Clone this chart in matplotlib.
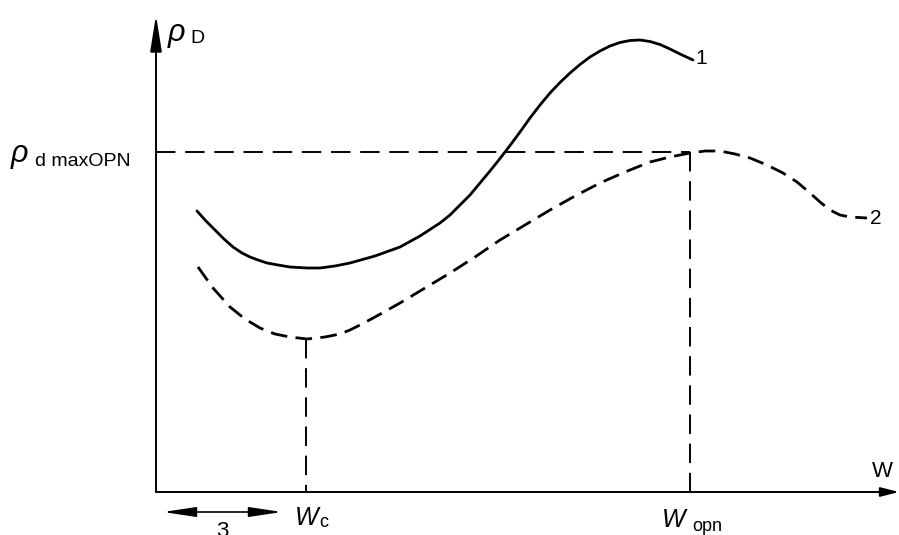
import numpy as np
import matplotlib.pyplot as plt
import matplotlib

matplotlib.rcParams['font.family'] = ['Liberation Sans', 'DejaVu Sans']
matplotlib.rcParams['lines.scale_dashes'] = False

# schematic units: W to the right of the origin, rho upward from the W axis
w1 = [41, 50, 59, 68, 77, 86, 94, 102, 111, 122, 134, 151, 164, 179, 194, 219, 244, 264,
      284, 294, 304, 314, 324, 334, 344, 354, 364, 374, 384, 394, 404, 414, 424, 434, 444,
      454, 464, 474, 484, 494, 504, 514, 524, 537]
rho1 = [281, 271, 262, 253, 245, 239, 235, 232, 229, 227, 225, 224, 224, 226, 229, 236,
        245, 256, 269, 277, 287, 297, 309, 321, 333.5, 346.5, 360, 374, 387, 399, 409.5,
        419, 427.5, 435, 441, 446, 449.5, 451.5, 452, 450.5, 447.5, 443, 438, 432]

w2 = [42, 57, 74, 89, 104, 119, 134, 151, 169, 184, 194, 206, 219, 244, 269, 294, 319, 344,
      369, 394, 419, 444, 469, 494, 514, 534, 549, 564, 579, 594, 611, 627, 641, 654, 664,
      674, 684, 694, 711]
rho2 = [225, 204, 185, 173, 164, 158, 155, 153, 155, 158, 162, 168, 175, 189, 204, 219, 235,
        252, 267, 282, 296, 309, 320, 330, 335, 339, 341, 341, 338, 334, 327, 319, 310, 299,
        290, 282, 277, 275, 274]

w_c = 150
w_opn = 534
rho_max = 340

fig = plt.figure(figsize=(8.99, 5.35), dpi=100)
ax = fig.add_axes([0, 0, 1, 1])
ax.set_xlim(-156, 743)
ax.set_ylim(-43, 492)
ax.axis('off')

# axes with arrows
arrow_kw = dict(arrowstyle='-|>,head_length=2.2,head_width=0.35', color='k', lw=1.4,
                mutation_scale=10, shrinkA=0, shrinkB=0)
ax.annotate('', xy=(0, 477), xytext=(0, 0), arrowprops=arrow_kw)
ax.annotate('', xy=(743, 0), xytext=(0, 0),
            arrowprops=dict(arrow_kw, arrowstyle='-|>,head_length=1.1,head_width=0.28'))

# guide lines
guide = dict(color='k', lw=1.4, ls=(0, (14, 7)))
ax.plot([0, w_opn], [rho_max, rho_max], **guide)
ax.plot([w_opn, w_opn], [rho_max, 0], **guide)
ax.plot([w_c, w_c], [153, 0], **guide)

# curves
ax.plot(w1, rho1, color='k', lw=2.0, solid_capstyle='round')
ax.plot(w2, rho2, color='k', lw=2.0, ls=(0, (12, 6)))

ax.text(539, 433, '1', fontsize=15, va='center', ha='left')
ax.text(714, 274, '2', fontsize=15, va='center', ha='left')

# double arrow 3
ax.annotate('', xy=(7, -20), xytext=(126, -20),
            arrowprops=dict(arrowstyle='<|-|>,head_length=2.0,head_width=0.3', color='k',
                            lw=1.2, mutation_scale=10, shrinkA=0, shrinkB=0))
ax.text(66, -45, '3', fontsize=16, ha='center', va='baseline')

# labels
ax.text(12, 451, 'ρ', fontsize=22, style='italic', va='baseline')
ax.text(34, 449, 'D', fontsize=14, va='baseline')
ax.text(-145, 330, 'ρ', fontsize=22, style='italic', va='baseline')
ax.text(-121, 326, 'd maxOPN', fontsize=14, va='baseline')

ax.text(716, 15, 'W', fontsize=16, va='baseline')
ax.text(139, -33, 'W', fontsize=18, style='italic', va='baseline')
ax.text(163, -35, 'c', fontsize=13, va='baseline')
ax.text(506, -35, 'W', fontsize=18, style='italic', va='baseline')
ax.text(536, -39, 'opn', fontsize=13, va='baseline')

fig.savefig('out.png', dpi=100, facecolor='white')
